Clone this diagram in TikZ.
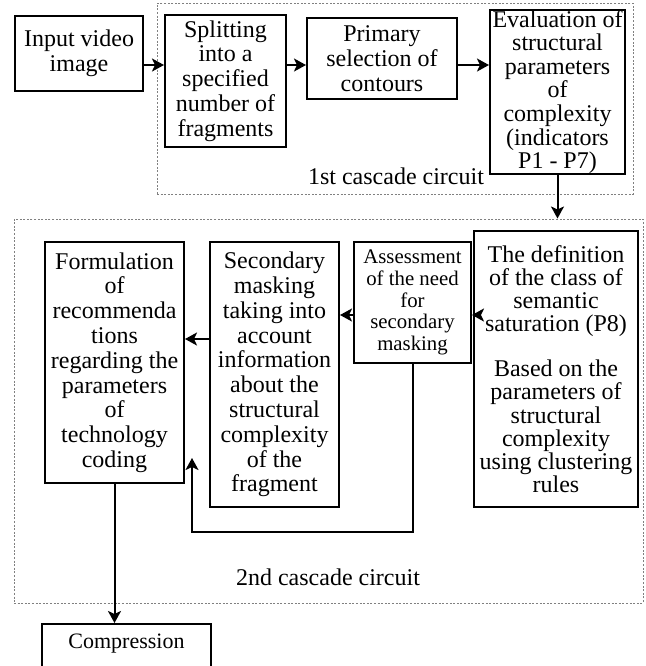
\documentclass[tikz,border=0pt]{standalone}
\usepackage{fontspec}
\setmainfont{Liberation Serif}
\usetikzlibrary{arrows.meta}
\tikzset{
  blk/.style={draw, line width=1pt, align=center, inner sep=1pt, font=\fontsize{12}{12.4}\selectfont},
  casc/.style={draw=gray, line width=0.5pt, dash pattern=on 1pt off 0.8pt},
  arr/.style={-{Stealth[length=6pt,width=6.5pt,inset=1.5pt]}, line width=1pt},
}
\begin{document}
\begin{tikzpicture}[x=0.5pt,y=-0.5pt]
\useasboundingbox (0,0) rectangle (645,666);
% the two cascades
\node[casc, minimum width=238pt, minimum height=95.5pt] (c1) at (395,98.5) {};
\node[casc, minimum width=314.5pt, minimum height=192pt] (c2) at (328.5,411) {};
\node[font=\fontsize{12}{12}\selectfont] (l1) at (396,176) {1st cascade circuit};
\node[font=\fontsize{12}{12}\selectfont] (l2) at (328,577) {2nd cascade circuit};
% first row
\node[blk, minimum width=64pt, minimum height=37.5pt] (inp) at (79,53.5) {Input video\\image};
\node[blk, minimum width=60.5pt, minimum height=66pt] (split) at (225.5,81) {Splitting\\into a\\specified\\number of\\fragments};
\node[blk, minimum width=75pt, minimum height=40.5pt] (prim) at (382,58.5) {Primary\\selection of\\contours};
\node[blk, minimum width=67.5pt, minimum height=80pt, inner ysep=0pt, font=\fontsize{12}{11.8}\selectfont] (eval) at (557.5,92) {Evaluation of\\structural\\parameters\\of\\complexity\\(indicators\\P1 - P7)};
% second row
\node[blk, minimum width=82pt, minimum height=138pt, font=\fontsize{12}{11.6}\selectfont] (defn) at (556,369) {The definition\\of the class of\\semantic\\saturation (P8)\\[10.9pt]Based on the\\parameters of\\structural\\complexity\\using clustering\\rules};
\node[blk, minimum width=58.5pt, minimum height=60.5pt, font=\fontsize{10.4}{10.8}\selectfont] (assess) at (412.5,302.5) {Assessment\\of the need\\for\\secondary\\masking};
\node[blk, minimum width=64.5pt, minimum height=132.5pt] (sec) at (274.5,374.5) {Secondary\\masking\\taking into\\account\\information\\about the\\structural\\complexity\\of the\\fragment};
\node[blk, minimum width=69.5pt, minimum height=120.5pt] (form) at (114.5,362.5) {Formulation\\of\\recommenda\\tions\\regarding the\\parameters\\of\\technology\\coding};
\node[blk, anchor=north, minimum width=84.5pt, text height=11pt, text depth=22pt, font=\fontsize{11}{12}\selectfont] (comp) at (126.5,623) {Compression};
% connectors
\coordinate (row) at (0,65);
\coordinate (mid) at (0,315);
\coordinate (low) at (0,339);
\coordinate (fb) at (192,458);
\foreach \a/\b in {inp/split,split/prim,prim/eval}{
    \draw[arr] (\a.east |- row) -- (\b.west |- row);
}
\draw[arr] (eval.south) -- (eval.south |- c2.north);
\foreach \a/\b in {defn/assess,assess/sec}{
    \draw[arr] (\a.west |- mid) -- (\b.east |- mid);
}
\draw[arr] (sec.west |- low) -- (form.east |- low);
\draw[arr] (assess.south) -- ++(0,168) -| (fb);
\draw[arr] (form.south) -- (form.south |- comp.north);
\end{tikzpicture}
\end{document}
